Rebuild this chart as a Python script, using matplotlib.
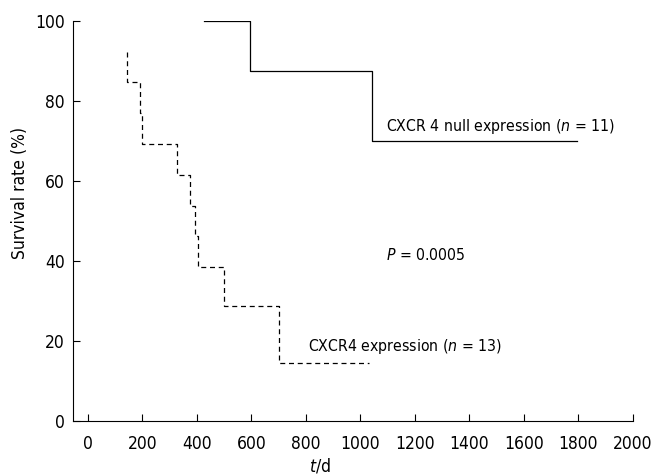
import matplotlib
matplotlib.use('Agg')
import matplotlib.pyplot as plt

# survival steps (days, %)
null_t = [427, 596, 1041, 1797]
null_s = [100, 87.5, 70, 70]

expr_t = [142, 142, 191, 199, 328, 374, 393, 404, 500, 701, 1031]
expr_s = [92.3, 84.6, 76.9, 69.2, 61.5, 53.8, 46.2, 38.5, 28.8, 14.6, 14.6]

x_ticks = [0, 200, 400, 600, 800, 1000, 1200, 1400, 1600, 1800, 2000]
y_ticks = [0, 20, 40, 60, 80, 100]

plt.rcParams['font.family'] = ['DejaVu Sans']
plt.rcParams['font.stretch'] = 'condensed'
plt.rcParams['mathtext.fontset'] = 'dejavusans'

fig = plt.figure(figsize=(6.51, 4.74), dpi=100)
ax = fig.add_axes([0.112, 0.112, 0.860, 0.844])

ax.step(null_t, null_s, where='post', color='black', lw=0.9)
ax.step(expr_t, expr_s, where='post', color='black', lw=0.9, dashes=(4, 3))

ax.text(1096, 73.6, 'CXCR 4 null expression ($n$ = 11)', fontsize=11.3, va='center')
ax.text(1094, 41.5, '$P$ = 0.0005', fontsize=11.3, va='center')
ax.text(808, 18.6, 'CXCR4 expression ($n$ = 13)', fontsize=11.3, va='center')

ax.set_xlim(-55, 2000)
ax.set_ylim(0, 100)
ax.set_xticks(x_ticks)
ax.set_yticks(y_ticks)
ax.tick_params(direction='in', length=5, width=0.8, labelsize=12.5)
ax.tick_params(axis='x', pad=10)
ax.tick_params(axis='y', pad=6)
for s in ['top', 'right']:
    ax.spines[s].set_visible(False)

ax.set_xlabel('$t$/d', fontsize=12.5)
ax.set_ylabel('Survival rate (%)', fontsize=12.5)
ax.xaxis.set_label_coords(0.441, -0.088)
ax.yaxis.set_label_coords(-0.078, 0.57)

fig.savefig('out.png', dpi=100)
